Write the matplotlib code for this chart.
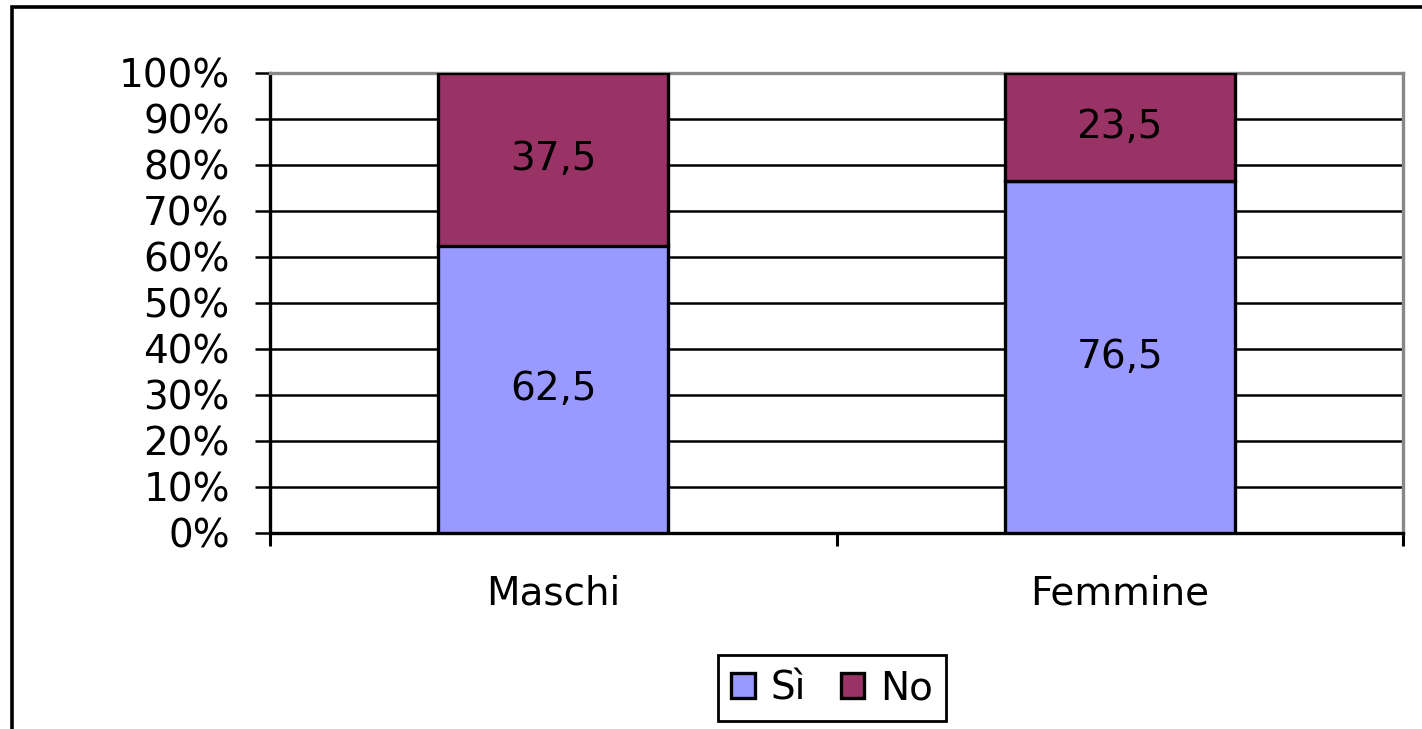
import numpy as np
import matplotlib
matplotlib.use('Agg')
import matplotlib.pyplot as plt
import matplotlib.patches as mpatches

# dati
categorie = ['Maschi', 'Femmine']
si = [62.5, 76.5]
no = [37.5, 23.5]
serie = ['Sì', 'No']

C_SI = '#9999FF'
C_NO = '#993366'
FS = 28

plt.rcParams['font.family'] = ['DejaVu Sans']

fig = plt.figure(figsize=(14.22, 7.29), dpi=100, facecolor='white')

# cornice esterna (esce dal bordo destro e inferiore)
top = 1 - 7 / 729
frame = mpatches.Rectangle((12 / 1422, -0.2), 2.0, top + 0.2,
                           transform=fig.transFigure, fill=False,
                           edgecolor='black', lw=2.6)
fig.patches.append(frame)

ax = fig.add_axes([270 / 1422, 1 - 533 / 729, 1133 / 1422, 460 / 729])

x = np.arange(len(categorie))
w = 0.406
b1 = ax.bar(x, si, width=w, color=C_SI, edgecolor='black', lw=2.4,
            label=serie[0], zorder=3)
b2 = ax.bar(x, no, width=w, bottom=si, color=C_NO, edgecolor='black', lw=2.4,
            label=serie[1], zorder=3)

for i in range(len(categorie)):
    ax.text(x[i], si[i] / 2, f"{si[i]:.1f}".replace('.', ','),
            ha='center', va='center', fontsize=FS, zorder=4)
    ax.text(x[i], si[i] + no[i] / 2, f"{no[i]:.1f}".replace('.', ','),
            ha='center', va='center', fontsize=FS, zorder=4)

ax.set_xlim(-0.5, len(categorie) - 0.5)
ax.set_ylim(0, 100)
ax.set_yticks(np.arange(0, 101, 10))
ax.set_yticklabels([f"{v}%" for v in range(0, 101, 10)], fontsize=FS)
ax.yaxis.grid(True, color='black', lw=1.8, zorder=0)
ax.set_axisbelow(True)

ax.set_xticks(x)
ax.set_xticklabels(categorie, fontsize=FS)
ax.set_xticks(np.arange(-0.5, len(categorie), 1.0), minor=True)
ax.tick_params(axis='x', which='major', length=0, pad=30)
ax.tick_params(axis='x', which='minor', length=9, width=2.2, direction='out')
ax.tick_params(axis='y', length=11, width=1.8, direction='out', pad=18)

for s in ['left', 'bottom']:
    ax.spines[s].set_color('black')
    ax.spines[s].set_linewidth(2.4)
for s in ['top', 'right']:
    ax.spines[s].set_color('#888888')
    ax.spines[s].set_linewidth(2.4)

leg = fig.legend(handles=[b1, b2], loc='center',
                 bbox_to_anchor=(832 / 1422, 1 - 688 / 729),
                 ncol=2, fontsize=FS, frameon=True, fancybox=False,
                 edgecolor='black', framealpha=1,
                 handlelength=0.6, handleheight=0.6, handletextpad=0.4,
                 columnspacing=0.9, borderpad=0.35)
leg.get_frame().set_linewidth(2.0)

fig.savefig('out.png', dpi=100, facecolor='white')
